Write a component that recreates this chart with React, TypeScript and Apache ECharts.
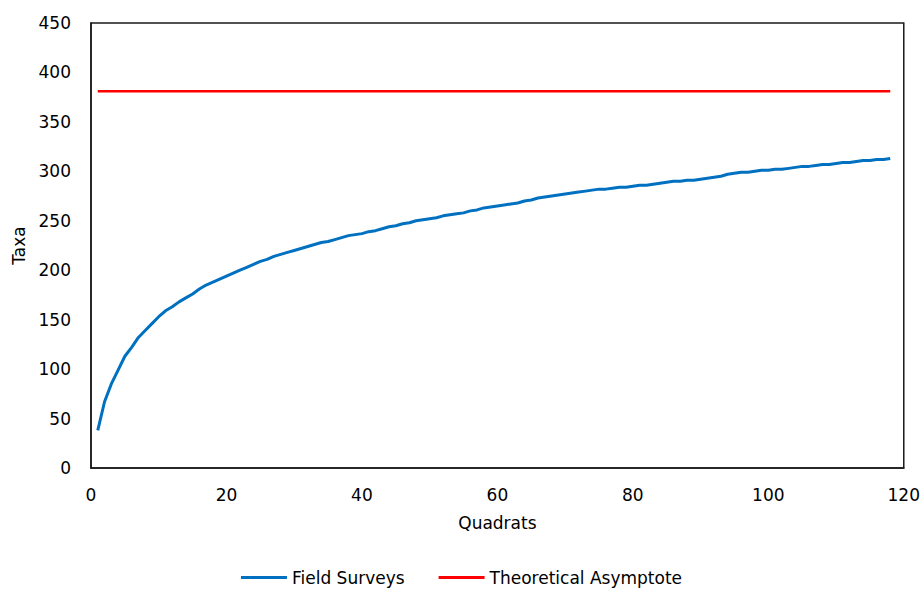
import React, { useEffect, useRef } from "react";
import * as echarts from "echarts";

const fieldSurveys: number[] = [
  38, 67, 85, 99, 113, 122, 132, 139, 146, 153,
  159, 163, 168, 172, 176, 181, 185, 188, 191, 194,
  197, 200, 203, 206, 209, 211, 214, 216, 218, 220,
  222, 224, 226, 228, 229, 231, 233, 235, 236, 237,
  239, 240, 242, 244, 245, 247, 248, 250, 251, 252,
  253, 255, 256, 257, 258, 260, 261, 263, 264, 265,
  266, 267, 268, 270, 271, 273, 274, 275, 276, 277,
  278, 279, 280, 281, 282, 282, 283, 284, 284, 285,
  286, 286, 287, 288, 289, 290, 290, 291, 291, 292,
  293, 294, 295, 297, 298, 299, 299, 300, 301, 301,
  302, 302, 303, 304, 305, 305, 306, 307, 307, 308,
  309, 309, 310, 311, 311, 312, 312, 313,
];
const quadrats: number[] = fieldSurveys.map((_, i) => i + 1);
const asymptoteValue = 381;
const asymptoteRange: number[] = [1, 118];

const FONT = "'DejaVu Sans', Verdana, sans-serif";
const FS = 17;

export default function App() {
  const ref = useRef<HTMLDivElement>(null);
  useEffect(() => {
    if (!ref.current) return;
    const chart = echarts.init(ref.current, null, { renderer: "svg" });
    chart.setOption({
      animation: false,
      backgroundColor: "#ffffff",
      textStyle: { fontFamily: FONT },
      grid: {
        left: 91,
        top: 23,
        right: 18,
        bottom: 122,
        show: true,
        borderColor: "#1a1a1a",
        borderWidth: 1.5,
      },
      legend: {
        top: 569,
        left: "center",
        itemWidth: 46,
        itemHeight: 3,
        itemGap: 34,
        icon: "rect",
        padding: 0,
        textStyle: { fontSize: FS, color: "#000", fontFamily: FONT },
        data: ["Field Surveys", "Theoretical Asymptote"],
      },
      xAxis: {
        type: "value",
        min: 0,
        max: 120,
        interval: 20,
        name: "Quadrats",
        nameLocation: "middle",
        nameGap: 46,
        nameTextStyle: { fontSize: FS, color: "#000", fontFamily: FONT },
        axisLine: { show: true, lineStyle: { color: "#1a1a1a", width: 1.5 } },
        axisTick: { show: false },
        splitLine: { show: false },
        axisLabel: { fontSize: FS, color: "#000", margin: 18, fontFamily: FONT },
      },
      yAxis: {
        type: "value",
        min: 0,
        max: 450,
        interval: 50,
        name: "Taxa",
        nameLocation: "middle",
        nameGap: 64,
        nameRotate: 90,
        nameTextStyle: { fontSize: FS, color: "#000", fontFamily: FONT },
        axisLine: { show: true, lineStyle: { color: "#1a1a1a", width: 1.5 } },
        axisTick: { show: false },
        splitLine: { show: false },
        axisLabel: { fontSize: FS, color: "#000", margin: 20, fontFamily: FONT },
      },
      series: [
        {
          name: "Field Surveys",
          type: "line",
          data: quadrats.map((q, i) => [q, fieldSurveys[i]]),
          showSymbol: false,
          symbol: "none",
          lineStyle: { color: "#0070C0", width: 3 },
          itemStyle: { color: "#0070C0" },
        },
        {
          name: "Theoretical Asymptote",
          type: "line",
          data: asymptoteRange.map((q) => [q, asymptoteValue]),
          showSymbol: false,
          symbol: "none",
          lineStyle: { color: "#FF0000", width: 2.5 },
          itemStyle: { color: "#FF0000" },
        },
      ],
    });
    return () => chart.dispose();
  }, []);
  return <div ref={ref} style={{ width: 923, height: 590, position: "absolute", left: 0, top: 0 }} />;
}
